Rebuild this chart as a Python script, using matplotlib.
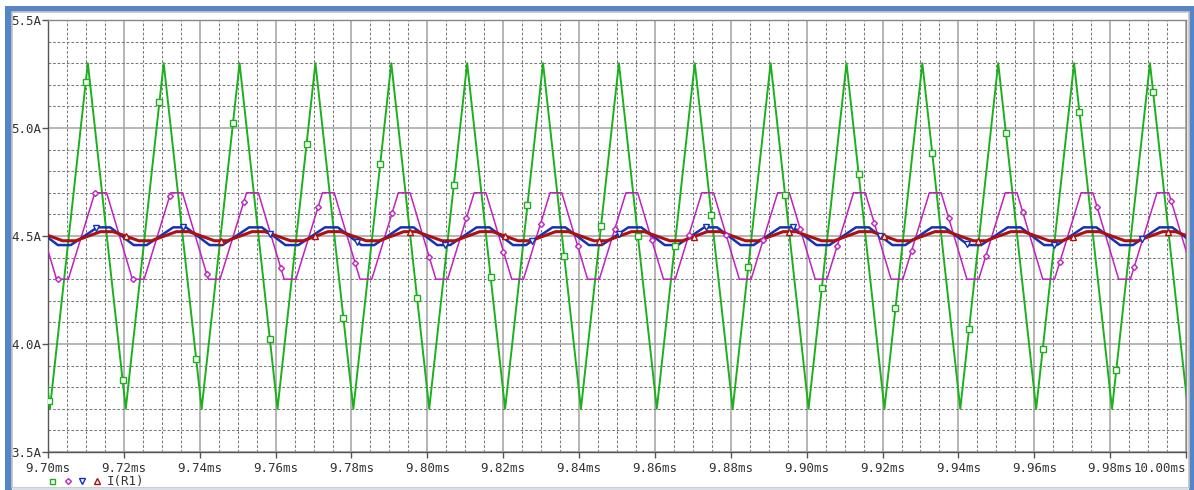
import numpy as np
import matplotlib
matplotlib.use("Agg")
import matplotlib.pyplot as plt
from matplotlib.lines import Line2D
from matplotlib.patches import Rectangle
from matplotlib.ticker import MultipleLocator, FixedLocator

# ---------------- data ----------------
# green trace: triangle wave vertices (time in ms, current in A)
green_t = [9.6905, 9.7005, 9.7105, 9.7205, 9.7305, 9.7405, 9.7505, 9.7605,
           9.7705, 9.7805, 9.7905, 9.8005, 9.8105, 9.8205, 9.8305, 9.8405,
           9.8505, 9.8605, 9.8705, 9.8805, 9.8905, 9.9005, 9.9105, 9.9205,
           9.9305, 9.9405, 9.9505, 9.9605, 9.9705, 9.9805, 9.9905, 10.0005]
green_v = [5.30, 3.70, 5.30, 3.70, 5.30, 3.70, 5.30, 3.70,
           5.30, 3.70, 5.30, 3.70, 5.30, 3.70, 5.30, 3.70,
           5.30, 3.70, 5.30, 3.70, 5.30, 3.70, 5.30, 3.70,
           5.30, 3.70, 5.30, 3.70, 5.30, 3.70, 5.30, 3.70]

# magenta trace: clipped wave, plateau centres
magenta_top_t = [9.6939, 9.7139, 9.7339, 9.7539, 9.7739, 9.7939, 9.8139, 9.8339, 9.8539,
                 9.8739, 9.8939, 9.9139, 9.9339, 9.9539, 9.9739, 9.9939, 10.0139]
magenta_bot_t = [9.6838, 9.7038, 9.7238, 9.7438, 9.7638, 9.7838, 9.8038, 9.8238, 9.8438,
                 9.8638, 9.8838, 9.9038, 9.9238, 9.9438, 9.9638, 9.9838, 10.0038]
magenta_top_v = 4.70
magenta_bot_v = 4.30

# blue trace: small wave, peak / trough centres
blue_peak_t = [9.6947, 9.7147, 9.7347, 9.7547, 9.7747, 9.7947, 9.8147, 9.8347, 9.8547,
               9.8747, 9.8947, 9.9147, 9.9347, 9.9547, 9.9747, 9.9947, 10.0147]
blue_trough_t = [9.6843, 9.7043, 9.7243, 9.7443, 9.7643, 9.7843, 9.8043, 9.8243, 9.8443,
                 9.8643, 9.8843, 9.9043, 9.9243, 9.9443, 9.9643, 9.9843, 10.0043]
blue_peak_v = 4.540
blue_trough_v = 4.458

# red trace I(R1): small wave, peak / trough centres
red_peak_t = [9.6955, 9.7155, 9.7355, 9.7555, 9.7755, 9.7955, 9.8155, 9.8355, 9.8555,
              9.8755, 9.8955, 9.9155, 9.9355, 9.9555, 9.9755, 9.9955, 10.0155]
red_trough_t = [9.6856, 9.7056, 9.7256, 9.7456, 9.7656, 9.7856, 9.8056, 9.8256, 9.8456,
                9.8656, 9.8856, 9.9056, 9.9256, 9.9456, 9.9656, 9.9856, 10.0056]
red_peak_v = 4.520
red_trough_v = 4.478

# marker positions along each trace (time in ms)
green_mark_t = [9.70026, 9.70996, 9.71966, 9.72937, 9.73907, 9.74877, 9.75847, 9.76817,
                9.77788, 9.78758, 9.79728, 9.80698, 9.81669, 9.82639, 9.83609, 9.84579,
                9.85549, 9.86520, 9.87490, 9.88460, 9.89430, 9.90400, 9.91371, 9.92341,
                9.93311, 9.94281, 9.95251, 9.96222, 9.97192, 9.98162, 9.99132]
magenta_mark_t = [9.70272, 9.71250, 9.72228, 9.73206, 9.74184, 9.75162, 9.76139, 9.77117,
                  9.78095, 9.79073, 9.80051, 9.81029, 9.82007, 9.82985, 9.83963, 9.84941,
                  9.85918, 9.86896, 9.87874, 9.88852, 9.89830, 9.90808, 9.91786, 9.92764,
                  9.93742, 9.94720, 9.95697, 9.96675, 9.97653, 9.98631, 9.99609]
blue_mark_t = [9.71265, 9.73562, 9.75859, 9.78156, 9.80453, 9.82751, 9.85048,
               9.87345, 9.89642, 9.91939, 9.94236, 9.96533, 9.98830]
red_mark_t = [9.72056, 9.74552, 9.77049, 9.79545, 9.82041, 9.84538,
              9.87034, 9.89530, 9.92027, 9.94523, 9.97019, 9.99516]

x_ticks = [9.70, 9.72, 9.74, 9.76, 9.78, 9.80, 9.82, 9.84,
           9.86, 9.88, 9.90, 9.92, 9.94, 9.96, 9.98, 10.00]
x_tick_labels = ["9.70ms", "9.72ms", "9.74ms", "9.76ms", "9.78ms", "9.80ms",
                 "9.82ms", "9.84ms", "9.86ms", "9.88ms", "9.90ms", "9.92ms",
                 "9.94ms", "9.96ms", "9.98ms", "10.00ms"]
y_ticks = [3.5, 4.0, 4.5, 5.0, 5.5]
y_tick_labels = ["3.5A", "4.0A", "4.5A", "5.0A", "5.5A"]
legend_label = "I(R1)"


# ---------------- helpers ----------------
def plateau_wave(hi_t, lo_t, hi_v, lo_v, half):
    pts = []
    for t in hi_t:
        pts += [(t - half, hi_v), (t + half, hi_v)]
    for t in lo_t:
        pts += [(t - half, lo_v), (t + half, lo_v)]
    pts.sort()
    arr = np.array(pts)
    return arr[:, 0], arr[:, 1]


W, H = 1194, 490
fig = plt.figure(figsize=(W / 100, H / 100), dpi=100, facecolor="white")

# window frame
BLUE = "#5585c5"
fig.add_artist(Rectangle((5 / W, 0), (W - 5) / W, (H - 6) / H, transform=fig.transFigure,
                         facecolor=BLUE, edgecolor="none", zorder=-10))
fig.add_artist(Rectangle((11.5 / W, 2 / H), (1189 - 11.5) / W, (H - 12.5 - 2) / H,
                         transform=fig.transFigure, facecolor="white",
                         edgecolor="#c4c4c4", lw=1.2, zorder=-9))
fig.add_artist(Rectangle((11.5 / W, 0), (1189 - 11.5) / W, 2 / H, transform=fig.transFigure,
                         facecolor="#d6dfea", edgecolor="none", zorder=-8))

ax = fig.add_axes([48 / W, (H - 452) / H, (1186 - 48) / W, 432 / H])
ax.set_facecolor("white")
ax.set_xlim(9.70, 10.00)
ax.set_ylim(3.5, 5.5)

# grid
ax.xaxis.set_major_locator(FixedLocator(x_ticks))
ax.yaxis.set_major_locator(FixedLocator(y_ticks))
ax.xaxis.set_minor_locator(MultipleLocator(0.005))
ax.yaxis.set_minor_locator(MultipleLocator(0.1))
ax.grid(which="major", color="#a2a2a2", lw=1.1, ls="-", zorder=0)
ax.grid(which="minor", color="#7a7a7a", lw=0.75, ls=(0, (2.6, 1.8)), zorder=0)
ax.set_axisbelow(True)

mono = "DejaVu Sans Mono"
ax.set_xticklabels(x_tick_labels, fontfamily=mono, fontsize=9, color="#333333")
ax.set_yticklabels(y_tick_labels, fontfamily=mono, fontsize=9, color="#333333")
ax.get_xticklabels()[-1].set_horizontalalignment("right")
ax.tick_params(which="major", direction="out", length=4.2, width=1.0, color="#555555")
ax.tick_params(axis="x", which="major", pad=3)
ax.tick_params(axis="y", which="major", pad=0.5)
ax.tick_params(which="minor", length=0)
for side, sp in ax.spines.items():
    sp.set_color("#888888" if side in ("top", "right") else "#555555")
    sp.set_linewidth(1.0)

# traces
gx, gy = np.array(green_t), np.array(green_v)
mx, my = plateau_wave(magenta_top_t, magenta_bot_t, magenta_top_v, magenta_bot_v, 0.00155)
bx, by = plateau_wave(blue_peak_t, blue_trough_t, blue_peak_v, blue_trough_v, 0.0017)
rx, ry = plateau_wave(red_peak_t, red_trough_t, red_peak_v, red_trough_v, 0.0017)

GREEN, MAG, BLU, RED = "#1cb01c", "#c021c0", "#1432b8", "#ae0f0f"

ax.plot(gx, gy, color=GREEN, lw=1.4, zorder=3)
ax.plot(mx, my, color=MAG, lw=1.1, zorder=4)
ax.plot(bx, by, color=BLU, lw=1.8, zorder=5)
ax.plot(rx, ry, color=RED, lw=2.2, zorder=6)

ax.plot(green_mark_t, np.interp(green_mark_t, gx, gy), ls="none", marker="s", ms=3.9,
        mfc="white", mec=GREEN, mew=1.0, zorder=7)
ax.plot(magenta_mark_t, np.interp(magenta_mark_t, mx, my), ls="none", marker="D", ms=3.0,
        mfc="white", mec=MAG, mew=1.0, zorder=7)
ax.plot(blue_mark_t, np.interp(blue_mark_t, bx, by), ls="none", marker="v", ms=4.5,
        mfc="white", mec=BLU, mew=1.0, zorder=7)
ax.plot(red_mark_t, np.interp(red_mark_t, rx, ry), ls="none", marker="^", ms=4.5,
        mfc="white", mec=RED, mew=1.0, zorder=7)

# legend row
ly = 1 - 481 / H
for xpix, mk, col, ms in [(52, "s", GREEN, 3.6), (68, "D", MAG, 3.0),
                          (82, "v", BLU, 4.2), (97, "^", RED, 4.2)]:
    fig.add_artist(Line2D([xpix / W], [ly], transform=fig.transFigure, ls="none",
                          marker=mk, ms=ms, mfc="white", mec=col, mew=1.0))
fig.text(107 / W, ly, legend_label, fontfamily=mono, fontsize=9, color="#333333",
         ha="left", va="center")

fig.savefig("out.png", dpi=100, facecolor="white")
